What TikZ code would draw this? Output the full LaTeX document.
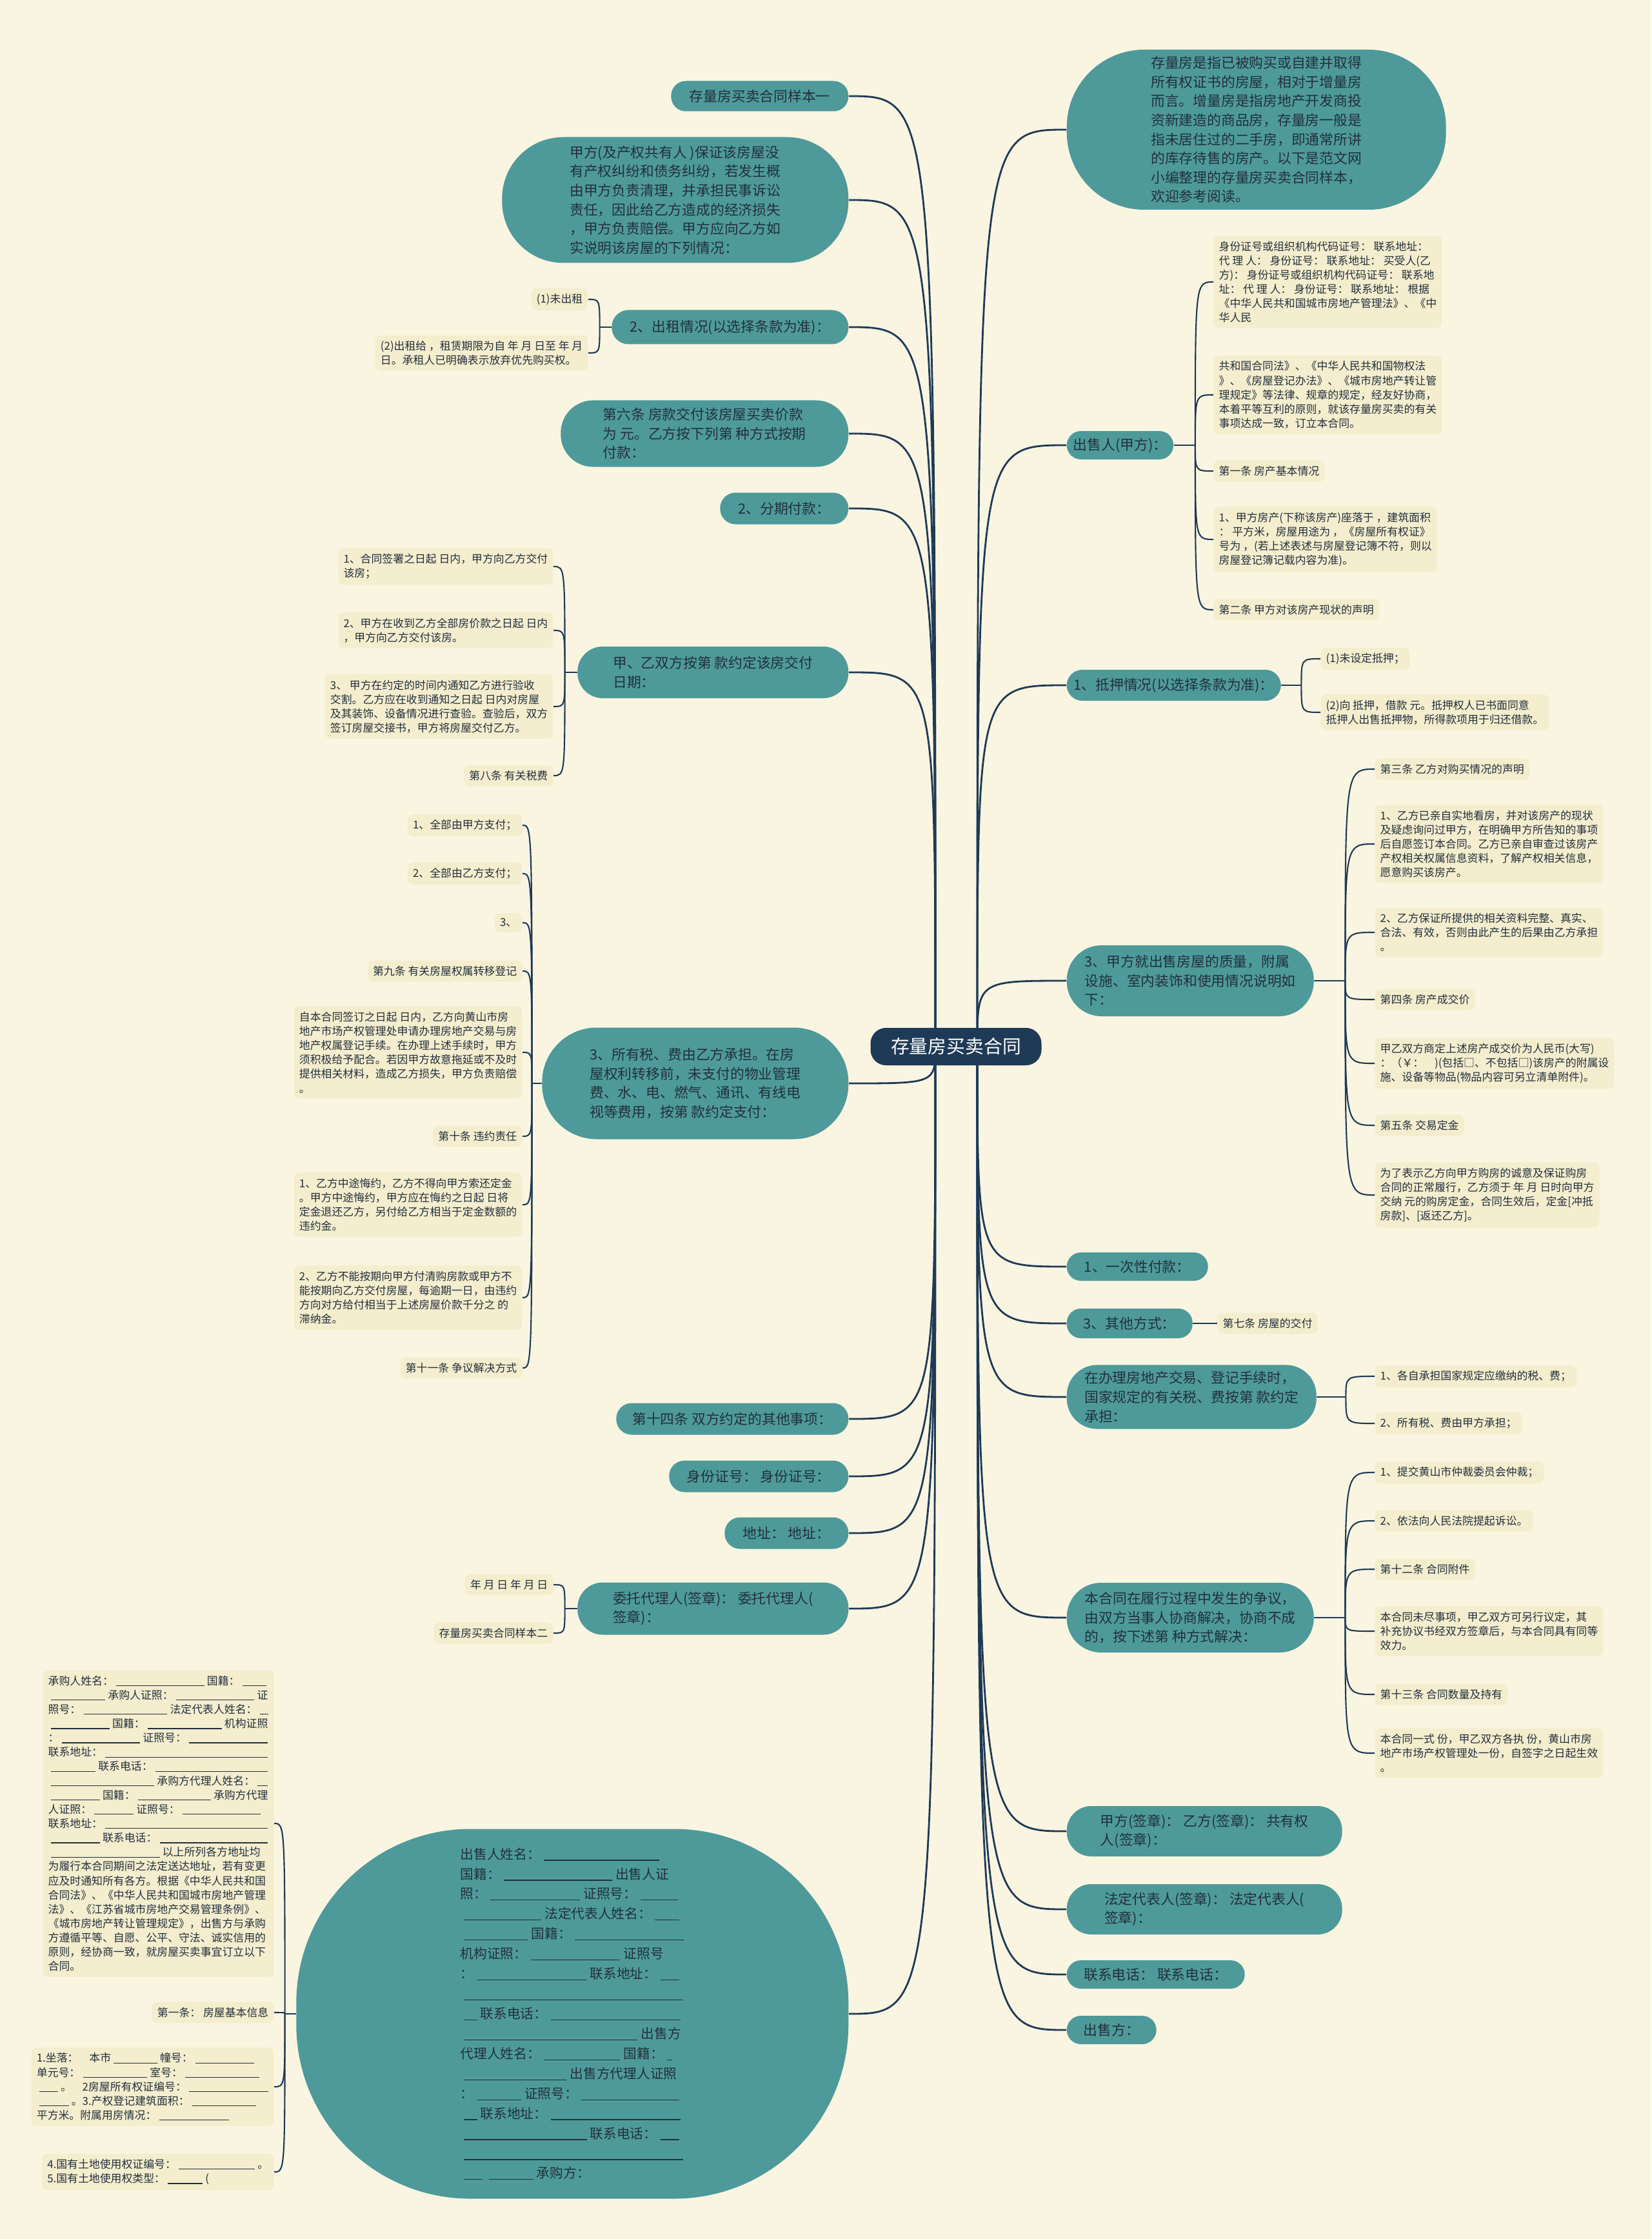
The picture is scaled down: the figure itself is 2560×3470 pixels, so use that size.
\documentclass[tikz,border=0pt]{standalone}
\usepackage{fontspec}
\newfontfamily\cjk{Noto Sans CJK SC}
\usetikzlibrary{backgrounds}

\definecolor{bgcream}{HTML}{FAF5E1}
\definecolor{mapteal}{HTML}{4E9A9A}
\definecolor{mapnavy}{HTML}{1E3A56}
\definecolor{leafbg}{HTML}{F4EDCE}
\definecolor{ink}{HTML}{22303C}

\newcommand{\gapline}[1]{\hspace{0.25em}\rule[-0.12em]{#1em}{0.35pt}\hspace{0.25em}}

\begin{document}
\begin{tikzpicture}[x=0.1mm, y=-0.1mm,
    ctrbox/.style={fill=mapnavy, text=white, rounded corners=2.4mm,
        minimum width=26.5mm, minimum height=5.8mm,
        font=\cjk\fontsize{8.2}{10}\selectfont},
    branch/.style={fill=mapteal, text=ink, rounded corners=#1, align=left,
        inner sep=1mm, font=\cjk\fontsize{6.2}{8.4}\selectfont},
    leaf/.style={fill=leafbg, text=ink, rounded corners=0.8mm, align=left,
        inner xsep=0.8mm, inner ysep=0.85mm,
        font=\cjk\fontsize{4.8}{6.3}\selectfont},
    trunk/.style={draw=mapnavy, line width=0.8pt},
    twig/.style={draw=mapnavy, line width=0.6pt}]

    \useasboundingbox (0,0) rectangle (2560,3470);
    \begin{scope}[on background layer]
        \fill[bgcream] (0,0) rectangle (2560,3470);
    \end{scope}

    \node[ctrbox] (ctr) at (1482,1622) {存量房买卖合同};
    \coordinate (lsrc) at (1450,1622);
    \coordinate (rsrc) at (1515,1622);

    % left branches
    \node[branch=2.3mm, minimum width=27.5mm, minimum height=4.7mm, anchor=east] (l1) at (1316,149) {存量房买卖合同样本一};
    \node[branch=9.5mm, minimum width=53.7mm, minimum height=19.5mm, anchor=east] (l2) at (1316,310)
        {甲方(及产权共有人 )保证该房屋没\\有产权纠纷和债务纠纷，若发生概\\由甲方负责清理，并承担民事诉讼\\责任，因此给乙方造成的经济损失\\，甲方负责赔偿。甲方应向乙方如\\实说明该房屋的下列情况：};
    \node[branch=2.6mm, minimum width=36.7mm, minimum height=5.3mm, anchor=east] (l3) at (1316,507) {2、出租情况(以选择条款为准)：};
    \node[branch=5mm, minimum width=44.6mm, minimum height=10.3mm, anchor=east] (l4) at (1316,672)
        {第六条 房款交付该房屋买卖价款\\为 元。乙方按下列第 种方式按期\\付款：};
    \node[branch=2.4mm, minimum width=19.9mm, minimum height=4.9mm, anchor=east] (l5) at (1316,788) {2、分期付款：};
    \node[branch=3.9mm, minimum width=42mm, minimum height=8mm, anchor=east] (l6) at (1316,1042)
        {甲、乙双方按第 款约定该房交付\\日期：};
    \node[branch=8.5mm, minimum width=47.5mm, minimum height=17.3mm, anchor=east] (l7) at (1316,1679)
        {3、所有税、费由乙方承担。在房\\屋权利转移前，未支付的物业管理\\费、水、电、燃气、通讯、有线电\\视等费用，按第 款约定支付：};
    \node[branch=2.4mm, minimum width=36mm, minimum height=4.9mm, anchor=east] (l8) at (1316,2199) {第十四条 双方约定的其他事项：};
    \node[branch=2.4mm, minimum width=27.8mm, minimum height=4.9mm, anchor=east] (l9) at (1316,2288) {身份证号： 身份证号：};
    \node[branch=2.4mm, minimum width=19.2mm, minimum height=4.9mm, anchor=east] (l10) at (1316,2376) {地址： 地址：};
    \node[branch=3.9mm, minimum width=42mm, minimum height=8.1mm, anchor=east] (l11) at (1316,2493)
        {委托代理人(签章)： 委托代理人(\\签章)：};
    \node[branch=27mm, minimum width=85.6mm, minimum height=57.3mm, anchor=east,
        font=\cjk\fontsize{5.9}{8.8}\selectfont] (l12) at (1316,3121)
        {出售人姓名：\gapline{8.6}\\
         国籍：\gapline{8.1}出售人证\\
         照：\gapline{6.7}证照号：\gapline{2.8}\\
         \gapline{5.8}法定代表人姓名：\gapline{1.8}\\
         \gapline{4.8}国籍：\gapline{8.2}\\
         机构证照：\gapline{6.7}证照号\\
         ：\gapline{8.2}联系地址：\gapline{1.4}\\
         \gapline{16.4}\\
         \gapline{1}联系电话：\gapline{9.7}\\
         \gapline{13}出售方\\
         代理人姓名：\gapline{5.7}国籍：\gapline{0.4}\\
         \gapline{7.7}出售方代理人证照\\
         ：\gapline{3.3}证照号：\gapline{7.3}\\
         \gapline{1}联系地址：\gapline{9.7}\\
         \gapline{9.2}联系电话：\gapline{1.4}\\
         \gapline{16.4}\\
         \gapline{1.4}\gapline{3.3}承购方：};

    % left leaves
    \node[leaf, anchor=east] (l3a) at (912,464) {(1)未出租};
    \node[leaf, anchor=east] (l3b) at (912,547) {(2)出租给 ，租赁期限为自 年 月 日至 年 月\\日。承租人已明确表示放弃优先购买权。};

    \node[leaf, anchor=east] (l6a) at (858,878) {1、合同签署之日起 日内，甲方向乙方交付\\该房；};
    \node[leaf, anchor=east] (l6b) at (858,977) {2、甲方在收到乙方全部房价款之日起 日内\\，甲方向乙方交付该房。};
    \node[leaf, anchor=east] (l6c) at (858,1095) {3、 甲方在约定的时间内通知乙方进行验收\\交割。乙方应在收到通知之日起 日内对房屋\\及其装饰、设备情况进行查验。查验后，双方\\签订房屋交接书，甲方将房屋交付乙方。};
    \node[leaf, anchor=east] (l6d) at (858,1202) {第八条 有关税费};

    \node[leaf, anchor=east] (l7a) at (810,1279) {1、全部由甲方支付；};
    \node[leaf, anchor=east] (l7b) at (810,1354) {2、全部由乙方支付；};
    \node[leaf, anchor=east] (l7c) at (810,1430) {3、};
    \node[leaf, anchor=east] (l7d) at (810,1505) {第九条 有关房屋权属转移登记};
    \node[leaf, anchor=east] (l7e) at (810,1631) {自本合同签订之日起 日内，乙方向黄山市房\\地产市场产权管理处申请办理房地产交易与房\\地产权属登记手续。在办理上述手续时，甲方\\须积极给予配合。若因甲方故意拖延或不及时\\提供相关材料，造成乙方损失，甲方负责赔偿\\。};
    \node[leaf, anchor=east] (l7f) at (810,1761) {第十条 违约责任};
    \node[leaf, anchor=east] (l7g) at (810,1867) {1、乙方中途悔约，乙方不得向甲方索还定金\\。甲方中途悔约，甲方应在悔约之日起 日将\\定金退还乙方，另付给乙方相当于定金数额的\\违约金。};
    \node[leaf, anchor=east] (l7h) at (810,2011) {2、乙方不能按期向甲方付清购房款或甲方不\\能按期向乙方交付房屋，每逾期一日，由违约\\方向对方给付相当于上述房屋价款千分之 的\\滞纳金。};
    \node[leaf, anchor=east] (l7i) at (810,2120) {第十一条 争议解决方式};

    \node[leaf, anchor=east] (l11a) at (858,2456) {年 月 日 年 月 日};
    \node[leaf, anchor=east] (l11b) at (858,2531) {存量房买卖合同样本二};

    \node[leaf, anchor=east] (l12a) at (425,2826)
        {承购人姓名：\gapline{8.1}国籍：\gapline{2.2}\\
         \gapline{5}承购人证照：\gapline{7.2}证\\
         照号：\gapline{7.7}法定代表人姓名：\gapline{0.8}\\
         \gapline{5.4}国籍：\gapline{6.8}机构证照\\
         ：\gapline{7.2}证照号：\gapline{7.2}\\
         联系地址：\gapline{14.9}\\
         \gapline{4.1}联系电话：\gapline{10.3}\\
         \gapline{9.5}承购方代理人姓名：\gapline{0.9}\\
         \gapline{4.5}国籍：\gapline{6.7}承购方代理\\
         人证照：\gapline{3.6}证照号：\gapline{7.2}\\
         联系地址：\gapline{14.9}\\
         \gapline{4.5}联系电话：\gapline{9.9}\\
         \gapline{10}以上所列各方地址均\\
         为履行本合同期间之法定送达地址，若有变更\\
         应及时通知所有各方。根据《中华人民共和国\\
         合同法》、《中华人民共和国城市房地产管理\\
         法》、《江苏省城市房地产交易管理条例》、\\
         《城市房地产转让管理规定》，出售方与承购\\
         方遵循平等、自愿、公平、守法、诚实信用的\\
         原则，经协商一致，就房屋买卖事宜订立以下\\
         合同。};
    \node[leaf, anchor=east] (l12b) at (425,3119) {第一条： 房屋基本信息};
    \node[leaf, anchor=east] (l12c) at (425,3234)
        {1.坐落：\hspace{1em}本市\gapline{4}幢号：\gapline{5.4}\\
         单元号：\gapline{5.9}室号：\gapline{6.8}\\
         \gapline{1.7}。\hspace{1em}2房屋所有权证编号：\gapline{7.3}\\
         \gapline{2.7}。3.产权登记建筑面积：\gapline{5.9}\\
         平方米。附属用房情况：\gapline{6.4}};
    \node[leaf, anchor=east] (l12d) at (425,3366)
        {4.国有土地使用权证编号：\gapline{7}。\\
         5.国有土地使用权类型：\gapline{3.2}(};

    % right branches
    \node[branch=12mm, minimum width=58.8mm, minimum height=24.8mm, anchor=west] (r1) at (1653,201)
        {存量房是指已被购买或自建并取得\\所有权证书的房屋，相对于增量房\\而言。增量房是指房地产开发商投\\资新建造的商品房，存量房一般是\\指未居住过的二手房，即通常所讲\\的库存待售的房产。以下是范文网\\小编整理的存量房买卖合同样本，\\欢迎参考阅读。};
    \node[branch=2.2mm, minimum width=16.1mm, minimum height=4.4mm, anchor=west] (r2) at (1653,690) {出售人(甲方)：};
    \node[branch=2.4mm, minimum width=33.2mm, minimum height=4.8mm, anchor=west] (r3) at (1653,1062) {1、抵押情况(以选择条款为准)：};
    \node[branch=5.4mm, minimum width=38.3mm, minimum height=11mm, anchor=west] (r4) at (1653,1520)
        {3、甲方就出售房屋的质量，附属\\设施、室内装饰和使用情况说明如\\下：};
    \node[branch=2.2mm, minimum width=21.9mm, minimum height=4.4mm, anchor=west] (r5) at (1653,1963) {1、一次性付款：};
    \node[branch=2.2mm, minimum width=19.5mm, minimum height=4.6mm, anchor=west] (r6) at (1653,2051) {3、其他方式：};
    \node[branch=4.7mm, minimum width=38.7mm, minimum height=9.6mm, anchor=west] (r7) at (1653,2165)
        {在办理房地产交易、登记手续时，\\国家规定的有关税、费按第 款约定\\承担：};
    \node[branch=5.3mm, minimum width=38.3mm, minimum height=10.8mm, anchor=west] (r8) at (1653,2507)
        {本合同在履行过程中发生的争议，\\由双方当事人协商解决，协商不成\\的，按下述第 种方式解决：};
    \node[branch=3.8mm, minimum width=42.7mm, minimum height=7.8mm, anchor=west] (r9) at (1653,2838)
        {甲方(签章)： 乙方(签章)： 共有权\\人(签章)：};
    \node[branch=3.8mm, minimum width=42.7mm, minimum height=7.8mm, anchor=west] (r10) at (1653,2959)
        {法定代表人(签章)： 法定代表人(\\签章)：};
    \node[branch=2.2mm, minimum width=27.6mm, minimum height=4.4mm, anchor=west] (r11) at (1653,3060) {联系电话： 联系电话：};
    \node[branch=2.2mm, minimum width=13.9mm, minimum height=4.4mm, anchor=west] (r12) at (1653,3146) {出售方：};

    % right leaves
    \node[leaf, anchor=west] (r2a) at (1881,437) {身份证号或组织机构代码证号： 联系地址：\\代 理 人： 身份证号： 联系地址： 买受人(乙\\方)： 身份证号或组织机构代码证号： 联系地\\址： 代 理 人： 身份证号： 联系地址： 根据\\《中华人民共和国城市房地产管理法》、《中\\华人民};
    \node[leaf, anchor=west] (r2b) at (1881,612) {共和国合同法》、《中华人民共和国物权法\\》、《房屋登记办法》、《城市房地产转让管\\理规定》等法律、规章的规定，经友好协商，\\本着平等互利的原则，就该存量房买卖的有关\\事项达成一致，订立本合同。};
    \node[leaf, anchor=west] (r2c) at (1881,730) {第一条 房产基本情况};
    \node[leaf, anchor=west] (r2d) at (1881,836) {1、甲方房产(下称该房产)座落于 ，建筑面积\\： 平方米，房屋用途为 ，《房屋所有权证》\\号为 ，(若上述表述与房屋登记簿不符，则以\\房屋登记簿记载内容为准)。};
    \node[leaf, anchor=west] (r2e) at (1881,945) {第二条 甲方对该房产现状的声明};

    \node[leaf, anchor=west] (r3a) at (2047,1021) {(1)未设定抵押；};
    \node[leaf, anchor=west] (r3b) at (2047,1104) {(2)向 抵押，借款 元。抵押权人已书面同意\\抵押人出售抵押物，所得款项用于归还借款。};

    \node[leaf, anchor=west] (r4a) at (2131,1192) {第三条 乙方对购买情况的声明};
    \node[leaf, anchor=west] (r4b) at (2131,1308) {1、乙方已亲自实地看房，并对该房产的现状\\及疑虑询问过甲方，在明确甲方所告知的事项\\后自愿签订本合同。乙方已亲自审查过该房产\\产权相关权属信息资料，了解产权相关信息，\\愿意购买该房产。};
    \node[leaf, anchor=west] (r4c) at (2131,1445) {2、乙方保证所提供的相关资料完整、真实、\\合法、有效，否则由此产生的后果由乙方承担\\。};
    \node[leaf, anchor=west] (r4d) at (2131,1549) {第四条 房产成交价};
    \node[leaf, anchor=west] (r4e) at (2131,1648) {甲乙双方商定上述房产成交价为人民币(大写)\\：（￥：　)(包括□、不包括□)该房产的附属设\\施、设备等物品(物品内容可另立清单附件)。};
    \node[leaf, anchor=west] (r4f) at (2131,1744) {第五条 交易定金};
    \node[leaf, anchor=west] (r4g) at (2131,1852) {为了表示乙方向甲方购房的诚意及保证购房\\合同的正常履行，乙方须于 年 月 日时向甲方\\交纳 元的购房定金，合同生效后，定金[冲抵\\房款]、[返还乙方]。};

    \node[leaf, anchor=west] (r6a) at (1887,2051) {第七条 房屋的交付};

    \node[leaf, anchor=west] (r7a) at (2131,2133) {1、各自承担国家规定应缴纳的税、费；};
    \node[leaf, anchor=west] (r7b) at (2131,2206) {2、所有税、费由甲方承担；};

    \node[leaf, anchor=west] (r8a) at (2131,2282) {1、提交黄山市仲裁委员会仲裁；};
    \node[leaf, anchor=west] (r8b) at (2131,2357) {2、依法向人民法院提起诉讼。};
    \node[leaf, anchor=west] (r8c) at (2131,2432) {第十二条 合同附件};
    \node[leaf, anchor=west] (r8d) at (2131,2528) {本合同未尽事项，甲乙双方可另行议定，其\\补充协议书经双方签章后，与本合同具有同等\\效力。};
    \node[leaf, anchor=west] (r8e) at (2131,2626) {第十三条 合同数量及持有};
    \node[leaf, anchor=west] (r8f) at (2131,2717) {本合同一式 份，甲乙双方各执 份，黄山市房\\地产市场产权管理处一份，自签字之日起生效\\。};

    % connectors
    \begin{scope}[on background layer]
        \foreach \b in {l1,l2,l3,l4,l5,l6,l7,l8,l9,l10,l11,l12}
            \draw[trunk] (lsrc) .. controls (lsrc |- \b.east) and (lsrc |- \b.east) .. (\b.east);
        \foreach \b in {r1,r2,r3,r4,r5,r6,r7,r8,r9,r10,r11,r12}
            \draw[trunk] (rsrc) .. controls (rsrc |- \b.west) and (rsrc |- \b.west) .. (\b.west);

        \draw[twig] (l3.west) -- ++(-18,0) coordinate (l3s);
        \foreach \lf in {l3a,l3b}
            \draw[twig] (l3s) .. controls (l3s |- \lf.east) and (l3s |- \lf.east) .. (\lf.east);
        \draw[twig] (l6.west) -- ++(-19,0) coordinate (l6s);
        \foreach \lf in {l6a,l6b,l6c,l6d}
            \draw[twig] (l6s) .. controls (l6s |- \lf.east) and (l6s |- \lf.east) .. (\lf.east);
        \draw[twig] (l7.west) -- ++(-15,0) coordinate (l7s);
        \foreach \lf in {l7a,l7b,l7c,l7d,l7e,l7f,l7g,l7h,l7i}
            \draw[twig] (l7s) .. controls (l7s |- \lf.east) and (l7s |- \lf.east) .. (\lf.east);
        \draw[twig] (l11.west) -- ++(-19,0) coordinate (l11s);
        \foreach \lf in {l11a,l11b}
            \draw[twig] (l11s) .. controls (l11s |- \lf.east) and (l11s |- \lf.east) .. (\lf.east);
        \draw[twig] (l12.west) -- ++(-17,0) coordinate (l12s);
        \foreach \lf in {l12a,l12b,l12c,l12d}
            \draw[twig] (l12s) .. controls (l12s |- \lf.east) and (l12s |- \lf.east) .. (\lf.east);

        \draw[twig] (r2.east) -- ++(33,0) coordinate (r2s);
        \foreach \lf in {r2a,r2b,r2c,r2d,r2e}
            \draw[twig] (r2s) .. controls (r2s |- \lf.west) and (r2s |- \lf.west) .. (\lf.west);
        \draw[twig] (r3.east) -- ++(31,0) coordinate (r3s);
        \foreach \lf in {r3a,r3b}
            \draw[twig] (r3s) .. controls (r3s |- \lf.west) and (r3s |- \lf.west) .. (\lf.west);
        \draw[twig] (r4.east) -- ++(48,0) coordinate (r4s);
        \foreach \lf in {r4a,r4b,r4c,r4d,r4e,r4f,r4g}
            \draw[twig] (r4s) .. controls (r4s |- \lf.west) and (r4s |- \lf.west) .. (\lf.west);
        \draw[twig] (r6.east) -- (r6a.west);
        \draw[twig] (r7.east) -- ++(45,0) coordinate (r7s);
        \foreach \lf in {r7a,r7b}
            \draw[twig] (r7s) .. controls (r7s |- \lf.west) and (r7s |- \lf.west) .. (\lf.west);
        \draw[twig] (r8.east) -- ++(48,0) coordinate (r8s);
        \foreach \lf in {r8a,r8b,r8c,r8d,r8e,r8f}
            \draw[twig] (r8s) .. controls (r8s |- \lf.west) and (r8s |- \lf.west) .. (\lf.west);
    \end{scope}
\end{tikzpicture}
\end{document}
